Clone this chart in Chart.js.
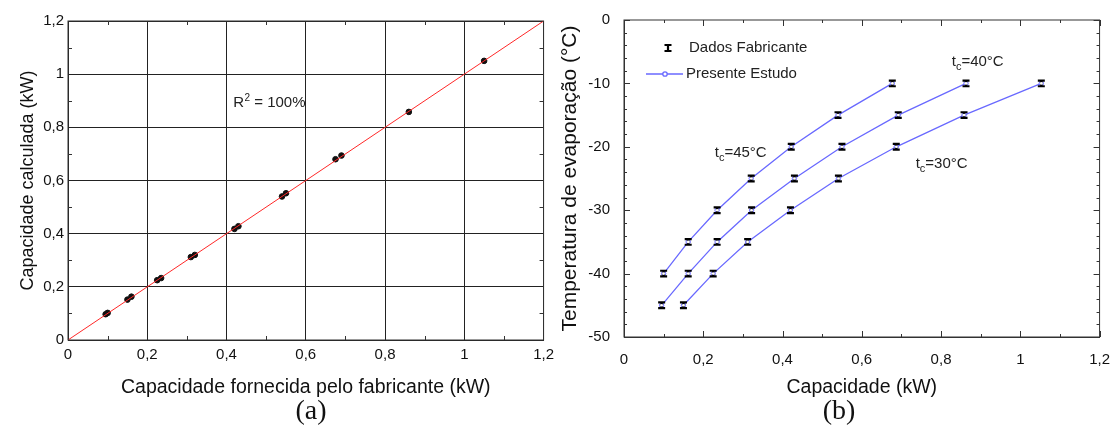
<!DOCTYPE html>
<html>
<head>
<meta charset="utf-8">
<script src="https://cdn.jsdelivr.net/npm/chart.js@4.4.0/dist/chart.umd.min.js"></script>
<style>
  body { margin: 0; background: #fff; width: 1116px; height: 430px; overflow: hidden; position: relative; }
  canvas { position: absolute; top: 0; }
  #chartA { left: 0; }
  #chartB { left: 560px; }
  .cap { position: absolute; top: 394px; width: 60px; text-align: center; font-family: "Liberation Serif", "Times New Roman", serif; font-size: 28px; color: #111; line-height: 32px; }
</style>
</head>
<body>
<canvas id="chartA" width="560" height="430"></canvas>
<canvas id="chartB" width="556" height="430"></canvas>
<div class="cap" style="left:281px">(a)</div>
<div class="cap" style="left:809px">(b)</div>
<script>
// (a) capacity given by the manufacturer vs calculated (kW)
const capFabricante = [0.095, 0.100, 0.150, 0.160, 0.225, 0.235, 0.310, 0.320, 0.420, 0.430, 0.540, 0.550, 0.675, 0.690, 0.860, 1.050];
const capCalculada  = [0.097, 0.102, 0.152, 0.163, 0.225, 0.233, 0.312, 0.320, 0.418, 0.428, 0.540, 0.552, 0.680, 0.694, 0.858, 1.050];
const fitX = [0, 1.2];
const fitY = [0, 1.2];

// (b) evaporating temperature vs capacity, one curve per condensing temperature
const evapTemps = [-45, -40, -35, -30, -25, -20, -15, -10];
const cap45 = [null, 0.100, 0.162, 0.235, 0.321, 0.422, 0.540, 0.677];
const cap40 = [0.095, 0.162, 0.235, 0.322, 0.430, 0.550, 0.692, 0.863];
const cap30 = [0.150, 0.225, 0.312, 0.420, 0.541, 0.687, 0.858, 1.053];
const errTemp = 0.45;

const curveLabels = [
  { sub: '45', x: 0.229, y: -21.0 },
  { sub: '40', x: 0.827, y: -6.6 },
  { sub: '30', x: 0.736, y: -22.7 }
];

const FONT = '"Liberation Sans", Arial, sans-serif';
const BLUE = 'rgb(105,105,255)';

const fmt = v => {
  const r = Math.round(v * 10) / 10;
  return r === 0 ? '0' : String(r).replace('.', ',');
};

const toPoints = (xs, ys) => xs.map((x, i) => ({ x, y: ys[i] })).filter(p => p.x !== null && p.y !== null);

// box around the plot plus inward tick marks on all four sides
const frameTicks = {
  id: 'frameTicks',
  afterDraw(chart, args, o) {
    const { ctx, chartArea: a, scales } = chart;
    ctx.save();
    ctx.strokeStyle = '#333';
    ctx.lineWidth = 1;
    ctx.strokeRect(a.left, a.top, a.right - a.left, a.bottom - a.top);
    ['x', 'y'].forEach(key => {
      const s = scales[key];
      const step = o.step[key], every = o.every[key];
      const n = Math.round((s.max - s.min) / step);
      for (let i = 0; i <= n; i++) {
        const len = i % every === 0 ? o.major : o.minor;
        if (!len) continue;
        const p = Math.round(s.getPixelForValue(s.min + i * step)) + 0.5;
        ctx.beginPath();
        if (key === 'x') {
          ctx.moveTo(p, a.bottom); ctx.lineTo(p, a.bottom - len);
          ctx.moveTo(p, a.top); ctx.lineTo(p, a.top + len);
        } else {
          ctx.moveTo(a.left, p); ctx.lineTo(a.left + len, p);
          ctx.moveTo(a.right, p); ctx.lineTo(a.right - len, p);
        }
        ctx.stroke();
      }
    });
    ctx.restore();
  }
};

function drawErrBar(ctx, x, yTop, yBot) {
  ctx.beginPath();
  ctx.moveTo(x, yTop); ctx.lineTo(x, yBot);
  ctx.moveTo(x - 3.5, yTop); ctx.lineTo(x + 3.5, yTop);
  ctx.moveTo(x - 3.5, yBot); ctx.lineTo(x + 3.5, yBot);
  ctx.stroke();
}

const errorBars = {
  id: 'errorBars',
  afterDatasetsDraw(chart) {
    const { ctx, scales: { y } } = chart;
    ctx.save();
    ctx.strokeStyle = '#000';
    ctx.lineWidth = 2.2;
    chart.data.datasets.forEach((ds, di) => {
      chart.getDatasetMeta(di).data.forEach((el, i) => {
        const v = ds.data[i].y;
        drawErrBar(ctx, el.x, y.getPixelForValue(v + errTemp), y.getPixelForValue(v - errTemp));
        ctx.beginPath();
        ctx.arc(el.x, el.y, 1.3, 0, Math.PI * 2);
        ctx.fillStyle = '#fff';
        ctx.fill();
      });
    });
    ctx.restore();
  }
};

const textR2 = {
  id: 'textR2',
  afterDraw(chart) {
    const { ctx, scales: { x, y } } = chart;
    const px = x.getPixelForValue(0.417), py = y.getPixelForValue(0.892);
    ctx.save();
    ctx.fillStyle = '#222';
    ctx.textBaseline = 'middle';
    ctx.font = '15px ' + FONT;
    ctx.fillText('R', px, py);
    const w = ctx.measureText('R').width;
    ctx.font = '10px ' + FONT;
    ctx.fillText('2', px + w + 0.5, py - 5);
    ctx.font = '15px ' + FONT;
    ctx.fillText(' = 100%', px + w + 6, py);
    ctx.restore();
  }
};

const textCurves = {
  id: 'textCurves',
  afterDraw(chart) {
    const { ctx, chartArea: a, scales: { x, y } } = chart;
    ctx.save();
    ctx.fillStyle = '#222';
    ctx.textBaseline = 'middle';
    curveLabels.forEach(l => {
      let px = x.getPixelForValue(l.x);
      const py = y.getPixelForValue(l.y);
      ctx.font = '15px ' + FONT;
      ctx.fillText('t', px, py);
      px += ctx.measureText('t').width;
      ctx.font = '11px ' + FONT;
      ctx.fillText('c', px, py + 5);
      px += ctx.measureText('c').width;
      ctx.font = '15px ' + FONT;
      ctx.fillText('=' + l.sub + '°C', px, py);
    });

    // legend
    const lx = a.left, ly = a.top;
    ctx.font = '15px ' + FONT;
    ctx.fillText('Dados Fabricante', lx + 65, ly + 28);
    ctx.fillText('Presente Estudo', lx + 62, ly + 54);
    ctx.strokeStyle = '#000';
    ctx.lineWidth = 2.2;
    drawErrBar(ctx, lx + 44, ly + 25, ly + 31);
    ctx.strokeStyle = BLUE;
    ctx.lineWidth = 1.3;
    ctx.beginPath();
    ctx.moveTo(lx + 22, ly + 54); ctx.lineTo(lx + 59, ly + 54);
    ctx.stroke();
    ctx.beginPath();
    ctx.arc(lx + 41, ly + 54, 2.2, 0, Math.PI * 2);
    ctx.fillStyle = '#fff';
    ctx.fill();
    ctx.stroke();
    ctx.restore();
  }
};

Chart.defaults.font.family = FONT;
Chart.defaults.color = '#111';

new Chart(document.getElementById('chartA'), {
  type: 'scatter',
  data: {
    datasets: [{
      data: toPoints(fitX, fitY),
      showLine: true,
      borderColor: 'rgb(255,40,40)',
      borderWidth: 1,
      pointRadius: 0
    }, {
      data: toPoints(capFabricante, capCalculada),
      backgroundColor: '#111',
      borderColor: '#111',
      pointRadius: 2.8
    }]
  },
  options: {
    responsive: false,
    animation: false,
    devicePixelRatio: 1,
    layout: { padding: { top: 21, right: 11, left: 0, bottom: 0 } },
    plugins: { legend: { display: false }, tooltip: { enabled: false }, frameTicks: { step: { x: 0.1, y: 0.1 }, every: { x: 2, y: 2 }, major: 0, minor: 4 } },
    scales: {
      x: {
        type: 'linear', min: 0, max: 1.2,
        ticks: { stepSize: 0.2, callback: fmt, font: { size: 15 }, padding: 6, maxRotation: 0 },
        grid: { color: '#222', drawTicks: false },
        border: { color: '#222' },
        title: { display: true, text: 'Capacidade fornecida pelo fabricante (kW)', font: { size: 19.5 }, padding: { top: 0, bottom: 31 } },
        afterFit: s => { s.height = 90; }
      },
      y: {
        type: 'linear', min: 0, max: 1.2,
        ticks: { stepSize: 0.2, callback: fmt, font: { size: 15 }, padding: 4 },
        grid: { color: '#222', drawTicks: false },
        border: { color: '#222' },
        title: { display: true, text: 'Capacidade calculada (kW)', font: { size: 18 }, padding: { top: 17, bottom: 0 } },
        afterFit: s => { s.width = 68; }
      }
    }
  },
  plugins: [frameTicks, textR2]
});

const curve = pts => ({
  data: pts,
  showLine: true,
  borderColor: BLUE,
  borderWidth: 1.3,
  pointRadius: 2.2,
  pointBackgroundColor: '#fff',
  pointBorderColor: BLUE,
  pointBorderWidth: 1
});

new Chart(document.getElementById('chartB'), {
  type: 'scatter',
  data: {
    datasets: [
      curve(toPoints(cap45, evapTemps)),
      curve(toPoints(cap40, evapTemps)),
      curve(toPoints(cap30, evapTemps))
    ]
  },
  options: {
    responsive: false,
    animation: false,
    devicePixelRatio: 1,
    layout: { padding: { top: 20, right: 14, left: 0, bottom: 0 } },
    plugins: { legend: { display: false }, tooltip: { enabled: false }, frameTicks: { step: { x: 0.1, y: 2 }, every: { x: 2, y: 5 }, major: 6, minor: 3 } },
    scales: {
      x: {
        type: 'linear', min: 0, max: 1.2,
        ticks: { stepSize: 0.2, callback: fmt, font: { size: 15 }, padding: 6, maxRotation: 0 },
        grid: { display: false },
        border: { color: '#333' },
        title: { display: true, text: 'Capacidade (kW)', font: { size: 19.5 }, padding: { top: 0, bottom: 31 } },
        afterFit: s => { s.height = 93; }
      },
      y: {
        type: 'linear', min: -50, max: 0,
        ticks: { stepSize: 10, font: { size: 15 }, padding: 6 },
        grid: { display: false },
        border: { color: '#333' },
        title: { display: true, text: 'Temperatura de evaporação (°C)', font: { size: 21, lineHeight: 1 }, padding: { top: 0, bottom: 0 } },
        afterFit: s => { s.width = 64; }
      }
    }
  },
  plugins: [frameTicks, errorBars, textCurves]
});
</script>
</body>
</html>
